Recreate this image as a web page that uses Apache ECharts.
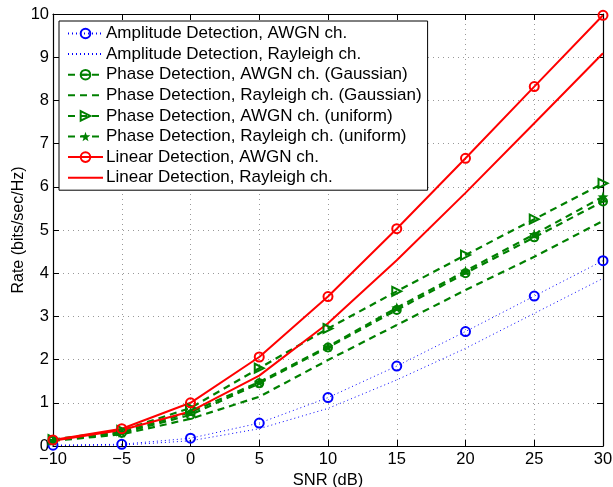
<!DOCTYPE html>
<html>
<head>
<meta charset="utf-8">
<script src="https://cdn.jsdelivr.net/npm/echarts@6/dist/echarts.min.js"></script>
<style>
  html, body { margin: 0; padding: 0; background: #fff; }
  #chart { width: 613px; height: 487px; }
</style>
</head>
<body>
<div id="chart"></div>
<script>
// SNR points (dB)
var snr = [-10, -5, 0, 5, 10, 15, 20, 25, 30];

// rates (bits/sec/Hz)
var ampAwgn      = [0.02, 0.04, 0.18, 0.53, 1.12, 1.85, 2.65, 3.47, 4.29];
var ampRayleigh  = [0.01, 0.02, 0.12, 0.40, 0.87, 1.53, 2.26, 3.07, 3.88];
var phaseAwgnG   = [0.13, 0.30, 0.72, 1.45, 2.28, 3.15, 4.00, 4.83, 5.66];
var phaseRayG    = [0.12, 0.27, 0.63, 1.14, 1.99, 2.80, 3.61, 4.38, 5.21];
var phaseAwgnU   = [0.15, 0.36, 0.88, 1.80, 2.72, 3.58, 4.42, 5.25, 6.08];
var phaseRayU    = [0.13, 0.32, 0.78, 1.48, 2.30, 3.20, 4.05, 4.90, 5.77];
var linAwgn      = [0.14, 0.40, 1.00, 2.06, 3.46, 5.03, 6.66, 8.32, 9.97];
var linRayleigh  = [0.12, 0.37, 0.80, 1.63, 2.84, 4.30, 5.86, 7.47, 9.09];

var names = [
    'Amplitude Detection, AWGN ch.',
    'Amplitude Detection, Rayleigh ch.',
    'Phase Detection, AWGN ch. (Gaussian)',
    'Phase Detection, Rayleigh ch. (Gaussian)',
    'Phase Detection, AWGN ch. (uniform)',
    'Phase Detection, Rayleigh ch. (uniform)',
    'Linear Detection, AWGN ch.',
    'Linear Detection, Rayleigh ch.'
];
// which series carry markers
var hasMarker = [true, false, true, false, true, true, true, false];

var BLUE = '#0000ff', GREEN = '#008000', RED = '#ff0000';
var FONT = 'Liberation Sans, Arial, sans-serif';

// marker shapes
var circleBar = 'path://M0,-10A10,10 0 1,1 0,10A10,10 0 1,1 0,-10ZM-10,0L10,0';
var triRight = 'path://M0,0L10,6L0,12Z';
var star = 'path://M0,-10L2.35,-3.24L9.51,-3.09L3.8,1.24L5.88,8.09L0,4L-5.88,8.09L-3.8,1.24L-9.51,-3.09L-2.35,-3.24Z';

function pairs(vals)
{
    return snr.map(function (x, i) { return [x, vals[i]]; });
}

function mkSeries(name, vals, color, type, width, symbol, symbolSize, filled)
{
    return {
        name: name,
        type: 'line',
        data: pairs(vals),
        symbol: symbol || 'none',
        symbolSize: symbolSize || 10,
        showSymbol: !!symbol,
        lineStyle: { color: color, width: width, type: type },
        itemStyle: {
            color: filled ? color : 'rgba(255,255,255,0)',
            borderColor: color,
            borderWidth: filled ? 0 : 2
        },
        emphasis: { disabled: true },
        animation: false
    };
}

var series = [
    mkSeries(names[0], ampAwgn, BLUE, [1, 3], 1, 'circle', 9, false),
    mkSeries(names[1], ampRayleigh, BLUE, [1, 3], 1),
    mkSeries(names[2], phaseAwgnG, GREEN, [7, 5], 2.2, circleBar, 8, false),
    mkSeries(names[3], phaseRayG, GREEN, [7, 5], 2.2),
    mkSeries(names[4], phaseAwgnU, GREEN, [7, 5], 2.2, triRight, 9, false),
    mkSeries(names[5], phaseRayU, GREEN, [7, 5], 2.2, star, 11, true),
    mkSeries(names[6], linAwgn, RED, 'solid', 2, 'circle', 9, false),
    mkSeries(names[7], linRayleigh, RED, 'solid', 2)
];

// legend entries: hide the marker for the line-only series
var legendData = names.map(function (n, i) {
    if (hasMarker[i]) return { name: n };
    return { name: n, itemStyle: { color: 'rgba(0,0,0,0)', borderColor: 'rgba(0,0,0,0)', borderWidth: 0 } };
});

function minus(v)
{
    return String(v).replace('-', '\u2212');
}

var tickStyle = { inside: true, length: 6, lineStyle: { color: '#000', width: 1 } };
var lineStyle = { show: true, onZero: false, lineStyle: { color: '#000', width: 1.2 } };
var gridLine = { show: true, lineStyle: { color: '#999', type: [1, 4], width: 1 } };

var myChart = echarts.init(document.getElementById('chart'));

var option = {
    backgroundColor: '#fff',
    animation: false,
    textStyle: { fontFamily: FONT },
    grid: { left: 53, right: 10, top: 14, bottom: 41, containLabel: false, outerBoundsMode: 'none' },
    legend: {
        data: legendData,
        orient: 'vertical',
        left: 59,
        top: 21,
        padding: [4, 6, 4, 8],
        itemWidth: 35,
        itemHeight: 12,
        itemGap: 3.6,
        backgroundColor: '#fff',
        borderColor: '#000',
        borderWidth: 1,
        borderRadius: 0,
        textStyle: { fontFamily: FONT, fontSize: 17, color: '#000', padding: [0, 0, 0, -2] },
        selectedMode: false
    },
    xAxis: [
        {
            type: 'value', min: -10, max: 30, interval: 5, position: 'bottom',
            name: 'SNR (dB)', nameLocation: 'middle', nameGap: 26, nameMoveOverlap: false,
            nameTextStyle: { fontFamily: FONT, fontSize: 16.5, color: '#000' },
            axisLine: lineStyle, axisTick: tickStyle, splitLine: gridLine,
            axisLabel: { fontFamily: FONT, fontSize: 16.5, color: '#000', margin: 5, formatter: minus }
        },
        {
            type: 'value', min: -10, max: 30, interval: 5, position: 'top',
            axisLine: lineStyle, axisTick: tickStyle, splitLine: { show: false },
            axisLabel: { show: false }
        }
    ],
    yAxis: [
        {
            type: 'value', min: 0, max: 10, interval: 1, position: 'left',
            name: 'Rate (bits/sec/Hz)', nameLocation: 'middle', nameGap: 26, nameMoveOverlap: false,
            nameTextStyle: { fontFamily: FONT, fontSize: 16, color: '#000' },
            axisLine: lineStyle, axisTick: tickStyle, splitLine: gridLine,
            axisLabel: { fontFamily: FONT, fontSize: 16.5, color: '#000', margin: 4 }
        },
        {
            type: 'value', min: 0, max: 10, interval: 1, position: 'right',
            axisLine: lineStyle, axisTick: tickStyle, splitLine: { show: false },
            axisLabel: { show: false }
        }
    ],
    series: series
};

myChart.setOption(option);
</script>
</body>
</html>
